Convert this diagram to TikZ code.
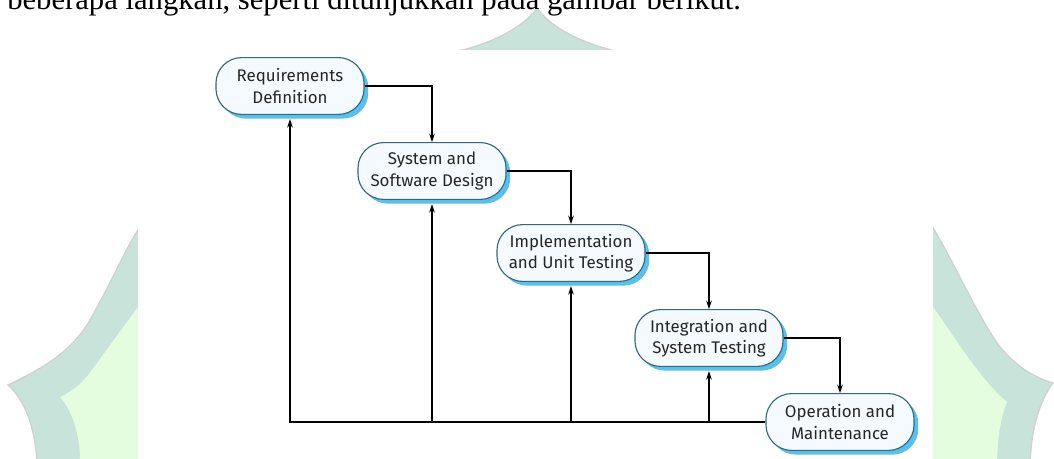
\documentclass[tikz,border=0pt]{standalone}
\usepackage{fontspec}
\setmainfont{Liberation Serif}
\newfontfamily\kotakfont{Fira Sans}
\usetikzlibrary{shadows,arrows.meta}
\definecolor{garis}{HTML}{36687A}
\definecolor{isi}{HTML}{F4FAFD}
\definecolor{bayang}{HTML}{55C1EC}
\definecolor{teks}{HTML}{262626}
\definecolor{pita}{HTML}{C8E4DA}
\definecolor{hijau}{HTML}{E4FDDE}
\tikzset{
  tahap/.style={draw=garis, line width=0.8pt, fill=isi, rounded corners=0.64cm,
    minimum width=3.7cm, minimum height=1.42cm, align=center, text=teks,
    font=\kotakfont\fontsize{12}{15}\selectfont,
    drop shadow={shadow xshift=3pt, shadow yshift=-3pt, fill=bayang, opacity=1}},
  panah/.style={-{Stealth[length=6pt,width=4pt]}, line width=0.8pt},
  balik/.style={panah, shorten >=3pt}
}
\begin{document}
\begin{tikzpicture}[x=0.025cm,y=-0.025cm]
\useasboundingbox (0,0) rectangle (1054,459);
  %Latar (kubah hijau)
\fill[pita, draw=black!18, line width=1pt] (37,470) .. controls (37,430) and (25,400) .. (8,385)
  .. controls (35,372) and (70,355) .. (90,320) .. controls (110,285) and (125,250) .. (138,230)
  .. controls (250,100) and (400,60) .. (463,50) .. controls (500,40) and (525,25) .. (537,8)
  .. controls (549,25) and (574,40) .. (611,50) .. controls (674,60) and (824,100) .. (933,228)
  .. controls (950,255) and (975,310) .. (995,340) .. controls (1012,365) and (1035,378) .. (1053,383)
  .. controls (1040,400) and (1030,430) .. (1030,470) -- cycle;
\fill[hijau] (80,470) -- (80,459) .. controls (80,435) and (72,410) .. (60,397)
  .. controls (75,390) and (85,380) .. (92,370) .. controls (110,345) and (125,325) .. (138,307)
  -- (300,150) -- (766,150) -- (933,307) .. controls (950,330) and (980,380) .. (1007,402)
  .. controls (1000,420) and (997,440) .. (997,470) -- cycle;
\fill[white] (138,50) rectangle (933,470);
  %Kalimat atas
\node[anchor=base west, inner sep=0pt, font=\fontsize{21.8}{24}\selectfont] (kalimat) at (7,10)
  {beberapa langkah, seperti ditunjukkan pada gambar berikut.};
  %Tahapan
\node[tahap] (req) at (290,86) {Requirements\\Definition};
\node[tahap] (sys) at (432,171) {System and\\Software Design};
\node[tahap] (impl) at (571,253) {Implementation\\and Unit Testing};
\node[tahap] (integ) at (709,338) {Integration and\\System Testing};
\node[tahap] (oper) at (840,422) {Operation and\\Maintenance};
  %Panah turun
\draw[panah] (req.east) -| (sys.north);
\draw[panah] (sys.east) -| (impl.north);
\draw[panah] (impl.east) -| (integ.north);
\draw[panah] (integ.east) -| (oper.north);
  %Panah balik
\draw[balik] (oper.west) -| (req.south);
\draw[balik] (oper.west -| sys.south) -- (sys.south);
\draw[balik] (oper.west -| impl.south) -- (impl.south);
\draw[balik] (oper.west -| integ.south) -- (integ.south);
\end{tikzpicture}
\end{document}
